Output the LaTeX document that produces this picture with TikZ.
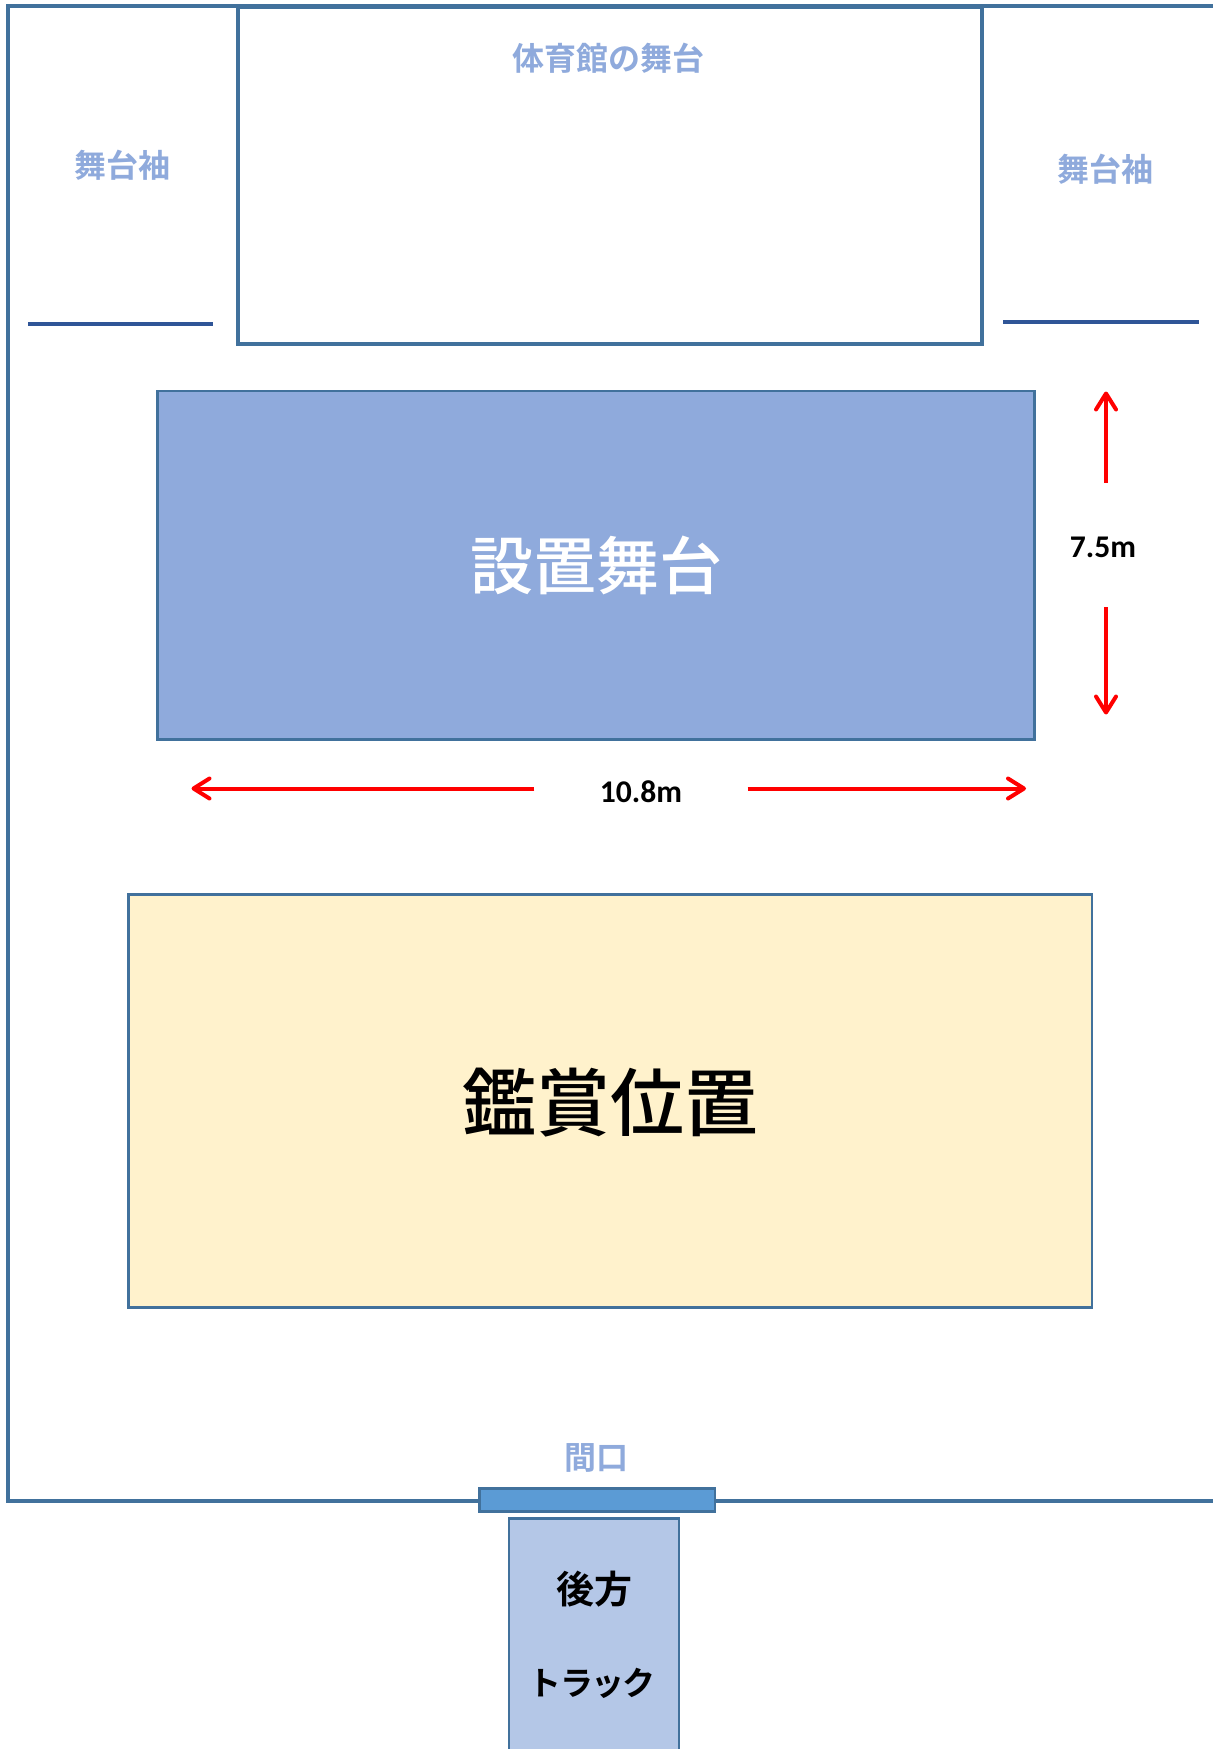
\documentclass[tikz,border=0pt]{standalone}
\usepackage{fontspec}
\setmainfont{Carlito}
\newfontfamily\cjk{Noto Sans CJK JP Medium}
\newfontfamily\cjkb{Noto Sans CJK JP Bold}
\usetikzlibrary{arrows.meta}
\definecolor{frameblue}{HTML}{41719C}
\definecolor{curtain}{HTML}{2F5597}
\definecolor{stagefill}{HTML}{8FAADC}
\definecolor{seatfill}{HTML}{FFF2CC}
\definecolor{doorfill}{HTML}{5B9BD5}
\definecolor{truckfill}{HTML}{B4C7E7}
\newcommand{\pxfont}[1]{\fontsize{#1pt}{#1pt}\selectfont}
\tikzset{
  x=0.5pt,y=-0.5pt,
  wall/.style={draw=frameblue,line width=2pt},
  panel/.style={draw=frameblue,line width=1.4pt,inner sep=0pt,outer sep=0pt,anchor=north west},
  curtainline/.style={draw=curtain,line width=2pt},
  dim/.style={draw=red,line width=2pt,-{Straight Barb[length=8pt,width=10pt,line width=2pt,round]}},
  lab/.style={inner sep=0pt,outer sep=0pt,anchor=center},
  palelab/.style={lab,text=stagefill,font=\cjkb\pxfont{16}},
  dimlab/.style={lab,text=black,font=\bfseries\pxfont{15.8}},
}
\begin{document}
\begin{tikzpicture}
\useasboundingbox (0,0) rectangle (1213,1749);
\fill[white] (0,0) rectangle (1213,1749);
% hall walls
\coordinate (wallTR) at (1213,6.5);
\coordinate (wallTL) at (8,6.5);
\coordinate (wallBL) at (8,1501);
\coordinate (wallBR) at (1213,1501);
\draw[wall,line join=miter] (wallTR) -- (wallTL) -- (wallBL) -- (wallBR);
% gym stage
\node[panel,line width=2pt,minimum width=372.2pt,minimum height=168.75pt] (gym) at (237.5,7) {};
\node[palelab] (gymlab) at (608,58) {体育館の舞台};
% wings
\node[palelab] (wingL) at (122,165) {舞台袖};
\node[palelab] (wingR) at (1105.5,169) {舞台袖};
\coordinate (cl1) at (28,324);
\coordinate (cl2) at (213,324);
\coordinate (cr1) at (1003,322);
\coordinate (cr2) at (1199.2,322);
\draw[curtainline] (cl1) -- (cl2);
\draw[curtainline] (cr1) -- (cr2);
% installed stage
\node[panel,fill=stagefill,minimum width=438.5pt,minimum height=174.3pt] (stage) at (157.5,391) {};
\node[lab,text=white,font=\cjk\pxfont{31.5}] (stagelab) at (596,565) {設置舞台};
% dimensions
\coordinate (v1) at (1106,482.7);
\coordinate (v2) at (1106,391.5);
\coordinate (v3) at (1106,607.3);
\coordinate (v4) at (1106,714.5);
\draw[dim] (v1) -- (v2);
\draw[dim] (v3) -- (v4);
\node[dimlab] (vlab) at (1103,547) {7.5m};
\coordinate (h1) at (534.4,788.5);
\coordinate (h2) at (191.5,788.5);
\coordinate (h3) at (747.5,788.5);
\coordinate (h4) at (1026,788.5);
\draw[dim] (h1) -- (h2);
\draw[dim] (h3) -- (h4);
\node[dimlab] (hlab) at (641,792) {10.8m};
% seating
\node[panel,fill=seatfill,minimum width=481.7pt,minimum height=206.5pt] (seat) at (128.5,894.5) {};
\node[lab,text=black,font=\cjk\pxfont{37}] (seatlab) at (610,1103) {鑑賞位置};
% door
\node[palelab] (doorlab) at (596,1458) {間口};
\node[panel,fill=doorfill,minimum width=117.7pt,minimum height=11.4pt] (door) at (479.6,1488.8) {};
% truck
\coordinate (tBL) at (509,1749);
\coordinate (tTL) at (509,1518.5);
\coordinate (tTR) at (679,1518.5);
\coordinate (tBR) at (679,1749);
\fill[truckfill] (tBL) -- (tTL) -- (tTR) -- (tBR) -- cycle;
\draw[frameblue,line width=1.4pt] (tBL) -- (tTL) -- (tTR) -- (tBR);
\node[lab,text=black,font=\cjkb\pxfont{19}] (trucka) at (594,1589) {後方};
\node[lab,text=black,font=\cjkb\pxfont{16.5}\addfontfeature{LetterSpace=-6}] (truckb) at (592,1683) {トラック};
\end{tikzpicture}
\end{document}
